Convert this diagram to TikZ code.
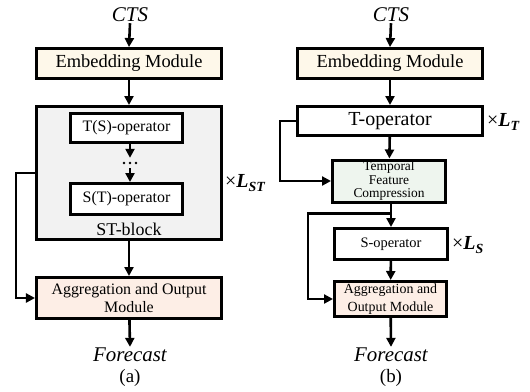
\documentclass[tikz,border=0pt]{standalone}
\usepackage{fontspec}
\setmainfont{Liberation Serif}
\usetikzlibrary{arrows.meta}
\definecolor{embfill}{HTML}{FEF8EA}
\definecolor{stfill}{HTML}{F2F2F2}
\definecolor{tfcfill}{HTML}{EEF5EE}
\definecolor{aggfill}{HTML}{FDEEE6}
\newcommand{\fsz}[2]{\fontsize{#1}{#2}\selectfont}
\newcommand{\rep}[1]{×\textbf{\textit{L}}\textsubscript{\textbf{\textit{#1}}}}

\begin{document}
\begin{tikzpicture}[x=1bp,y=-1bp,
	blk/.style={draw,line width=3bp,inner sep=0pt,align=center},
	arr/.style={line width=2.6bp,-{Triangle[length=9bp,width=9bp]}},
	io/.style={inner sep=1bp,font=\fsz{21}{21}\itshape}]
	\useasboundingbox (0,0) rectangle (530,391);

	% (a)
	\node[io] (ctsa) at (130,15) {CTS};
	\node[blk,fill=embfill,minimum width=185bp,minimum height=30bp,font=\fsz{18.5}{20}] (emba) at (129,63.5) {Embedding Module};
	\node[blk,fill=stfill,minimum width=185bp,minimum height=133bp] (st) at (129,173) {};
	\node[blk,fill=white,minimum width=112bp,minimum height=29bp,font=\fsz{16}{18}] (tso) at (126.5,128) {T(S)-operator};
	\node[inner sep=0pt,minimum height=10bp,minimum width=14bp] (dots) at (130,163) {};
	\node[blk,fill=white,minimum width=112bp,minimum height=31bp,font=\fsz{16}{18}] (sto) at (126.5,199) {S(T)-operator};
	\node[font=\fsz{18}{18}] (stlbl) at (129,229) {ST-block};
	\node[anchor=west,inner sep=0pt,font=\fsz{20}{20}] (lst) at (225,183) {\rep{ST}};
	\node[blk,fill=aggfill,minimum width=185bp,minimum height=41bp,font=\fsz{16}{18}] (agga) at (129,298) {Aggregation and Output\\Module};
	\node[io] (fca) at (130,355) {Forecast};
	\node[font=\fsz{19}{19}] (capa) at (130,378) {(a)};

	\draw[arr] (ctsa.south) -- (emba.north);
	\draw[arr] (emba) -- (st);
	\draw[arr] (tso.south -| dots) -- (dots.north);
	\foreach \dx in {-6,0,6}
		\fill ([xshift=\dx bp]dots.center) circle (1.3bp);
	\draw[arr] (dots.south) -- (sto.north -| dots);
	\draw[arr] (st) -- (agga);
	\draw[arr] (st.west) -- ++(-19,0) |- (agga.west);
	\draw[arr] (agga) -- (fca.north);

	% (b)
	\node[io] (ctsb) at (391,15) {CTS};
	\node[blk,fill=embfill,minimum width=185bp,minimum height=30bp,font=\fsz{18.5}{20}] (embb) at (390,63.5) {Embedding Module};
	\node[blk,fill=white,minimum width=185bp,minimum height=29bp,font=\fsz{20}{20}] (top) at (390,121) {T-operator};
	\node[anchor=west,inner sep=0pt,font=\fsz{20}{20}] (lt) at (487,122) {\rep{T}};
	\node[blk,fill=tfcfill,minimum width=113bp,minimum height=42bp,font=\fsz{13.5}{13.8}] (tfc) at (389,181) {Temporal\\Feature\\Compression};
	\node[blk,fill=white,minimum width=113bp,minimum height=31bp,font=\fsz{14.5}{16}] (so) at (391,244) {S-operator};
	\node[anchor=west,inner sep=0pt,font=\fsz{20}{20}] (ls) at (452,245) {\rep{S}};
	\node[blk,fill=aggfill,minimum width=112bp,minimum height=35bp,font=\fsz{14}{18}] (aggb) at (390.5,299) {Aggregation and\\Output Module};
	\node[io] (fcb) at (391,355) {Forecast};
	\node[font=\fsz{19}{19}] (capb) at (391,378) {(b)};

	\draw[arr] (ctsb.south) -- (embb.north);
	\draw[arr] (embb) -- (top);
	\draw[arr] (top) -- (tfc);
	\draw[arr] (top.west) -- ++(-16,0) |- (tfc.west);
	\draw[arr] (tfc.south -| so) -- (so.north) coordinate[pos=0.42] (br);
	\draw[arr] (br) -- ++(-83,0) |- (aggb.west);
	\draw[arr] (so) -- (aggb);
	\draw[arr] (aggb) -- (fcb.north);
\end{tikzpicture}
\end{document}
